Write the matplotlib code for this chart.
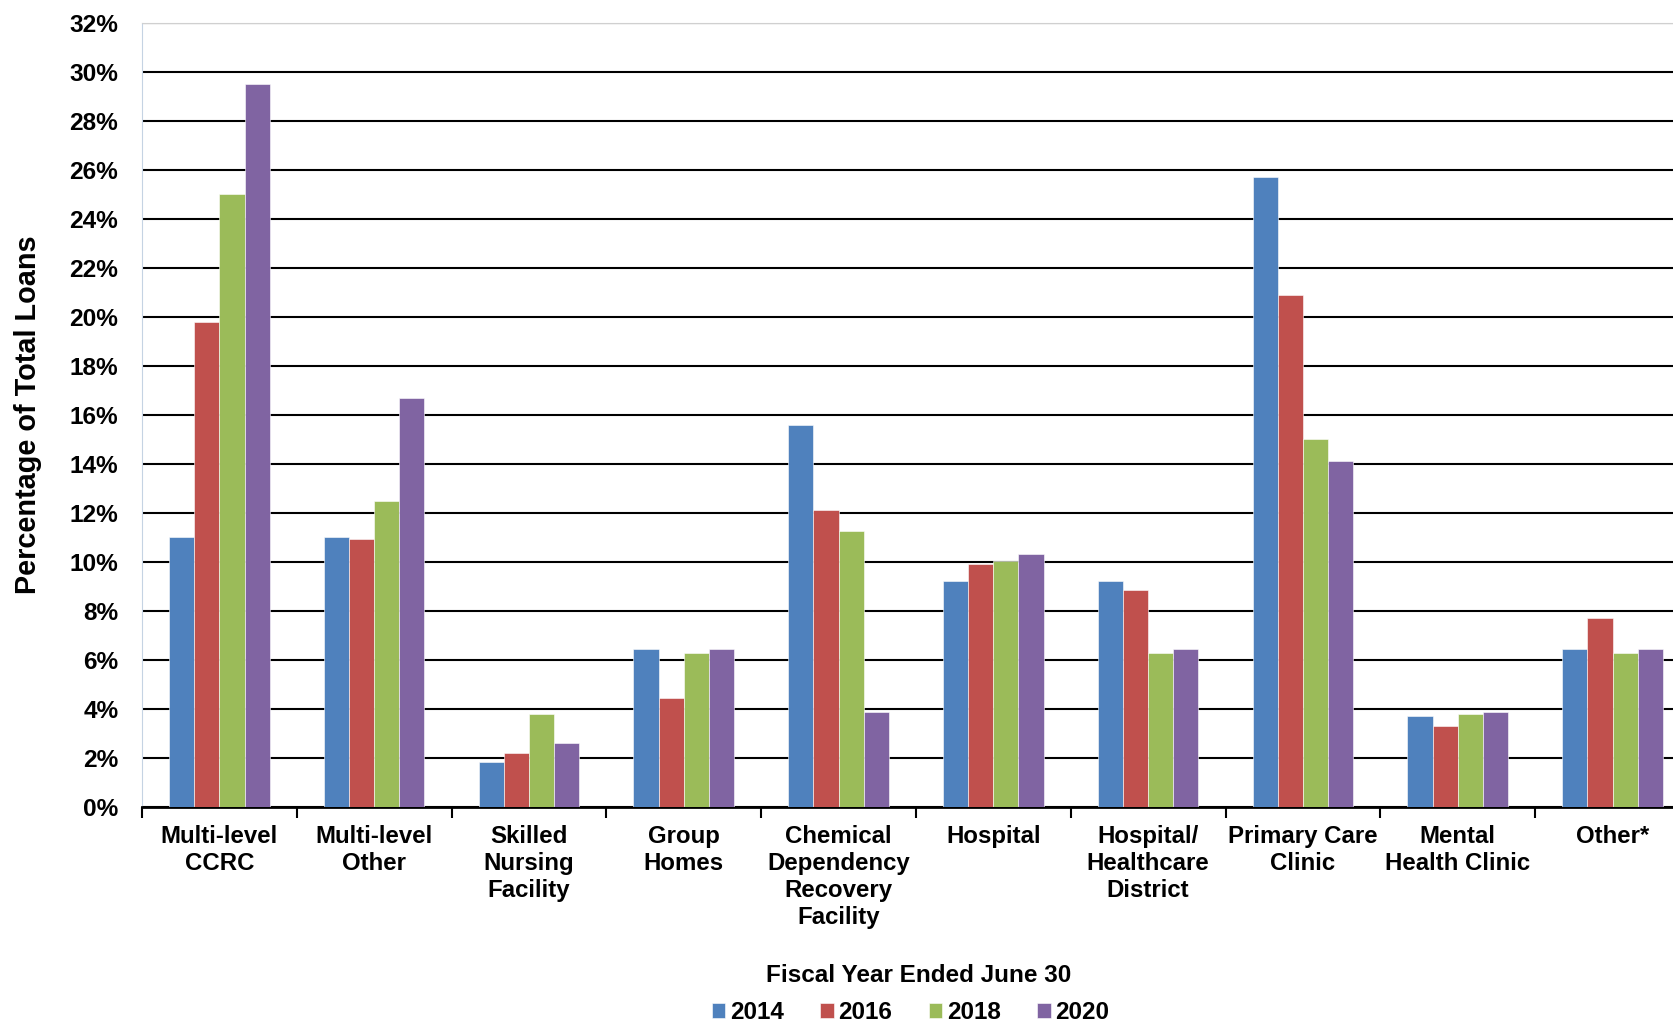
import numpy as np
import matplotlib.pyplot as plt
from matplotlib.ticker import FuncFormatter, MultipleLocator

plt.rcParams['font.family'] = ['Liberation Sans', 'DejaVu Sans']
plt.rcParams['font.weight'] = 'bold'

#%% Данные: доля кредитов по типам учреждений, %
categories = ['Multi-level\nCCRC', 'Multi-level\nOther', 'Skilled\nNursing\nFacility',
              'Group\nHomes', 'Chemical\nDependency\nRecovery\nFacility', 'Hospital',
              'Hospital/\nHealthcare\nDistrict', 'Primary Care\nClinic',
              'Mental\nHealth Clinic', 'Other*']
years = ['2014', '2016', '2018', '2020']
colors = ['#4F81BD', '#C0504D', '#9BBB59', '#8064A2']

pct_2014 = [11.0, 11.0, 1.85, 6.45, 15.6, 9.2, 9.2, 25.7, 3.7, 6.45]
pct_2016 = [19.8, 10.95, 2.2, 4.45, 12.1, 9.9, 8.85, 20.9, 3.3, 7.7]
pct_2018 = [25.0, 12.5, 3.8, 6.27, 11.27, 10.05, 6.27, 15.0, 3.8, 6.27]
pct_2020 = [29.5, 16.7, 2.6, 6.43, 3.87, 10.3, 6.43, 14.1, 3.87, 6.43]
series = [pct_2014, pct_2016, pct_2018, pct_2020]

#%% График
fig = plt.figure(figsize=(16.74, 10.24), dpi=100)
# правый край оси уходит чуть за пределы рисунка
ax = fig.add_axes([0.0848, 0.212, 0.9247, 0.766])

x = np.arange(len(categories))
w = 0.1625
for i, (vals, c, yr) in enumerate(zip(series, colors, years)):
    ax.bar(x + (i - 1.5) * w, vals, width=w, color=c, label=yr,
           edgecolor='white', linewidth=0.4, zorder=3)

ax.set_xlim(-0.5, len(categories) - 0.5)
ax.set_ylim(0, 32)
ax.yaxis.set_major_locator(MultipleLocator(2))
ax.yaxis.set_major_formatter(FuncFormatter(lambda v, _: f'{v:.0f}%'))
ax.grid(axis='y', color='black', lw=1.5, zorder=0)

ax.set_xticks(x)
ax.set_xticklabels(categories, fontsize=17.3, fontweight='bold', linespacing=1.22,
                   va='top')
ax.set_xticks(np.arange(len(categories) + 1) - 0.5, minor=True)
ax.tick_params(axis='x', which='major', length=0, pad=13)
ax.tick_params(axis='x', which='minor', length=8, width=1.5, direction='out')
ax.tick_params(axis='y', length=0, pad=17, labelsize=17.6)
for lab in ax.get_yticklabels():
    lab.set_fontweight('bold')

ax.spines['bottom'].set_linewidth(2)
ax.spines['left'].set_color('#C5D3E3')
ax.spines['top'].set_color('#D0D0D0')
ax.spines['right'].set_visible(False)

ax.set_ylabel('Percentage of Total Loans', fontsize=20.8, fontweight='bold', labelpad=20)

fig.text(0.549, 0.047, 'Fiscal Year Ended June 30', ha='center', va='center',
         fontsize=17.5, fontweight='bold')
fig.legend(loc='center', bbox_to_anchor=(0.544, 0.011), ncol=4, frameon=False,
           prop={'size': 17.5, 'weight': 'bold'}, handlelength=0.55, handleheight=0.55,
           handletextpad=0.2, columnspacing=1.5, borderpad=0)

fig.savefig('out.png', dpi=100)
